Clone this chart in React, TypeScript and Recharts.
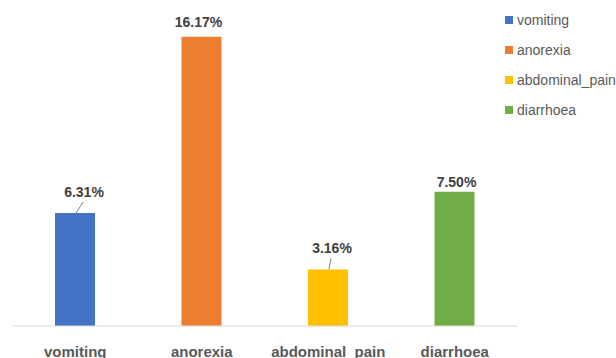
import { BarChart, Bar, XAxis, YAxis, Cell, LabelList } from 'recharts'

const categories = ['vomiting', 'anorexia', 'abdominal_pain', 'diarrhoea']
const rates = [6.31, 16.17, 3.16, 7.5]
const rateLabels = ['6.31%', '16.17%', '3.16%', '7.50%']
const colors = ['#4472C4', '#ED7D31', '#FFC000', '#70AD47']

// label placement tweaks (dx/dy from bar top centre), leader line when label is offset
const labelShift = [
  { dx: 9, dy: -21, leader: true },
  { dx: -3, dy: -15, leader: false },
  { dx: 4, dy: -21, leader: true },
  { dx: 2, dy: -10, leader: false },
]

const chartData = categories.map((name, i) => ({ name, value: rates[i], label: rateLabels[i] }))

const FONT = '"Liberation Sans", Arial, sans-serif'

function ValueLabel(props: any) {
  const { x, y, width, index } = props
  const s = labelShift[index]
  const cx = x + width / 2
  const lx = cx + s.dx
  const ly = y + s.dy
  return (
    <g>
      {s.leader && (
        <line x1={cx + 1} y1={y} x2={lx - 1} y2={ly + 10} stroke="#7f7f7f" strokeWidth={1} />
      )}
      <text
        x={lx}
        y={ly}
        textAnchor="middle"
        dominantBaseline="central"
        fontFamily={FONT}
        fontWeight="bold"
        fontSize={14}
        fill="#404040"
      >
        {rateLabels[index]}
      </text>
    </g>
  )
}

function CategoryTick(props: any) {
  const { x, y, payload } = props
  return (
    <text
      x={x}
      y={y + 17}
      textAnchor="middle"
      dominantBaseline="central"
      fontFamily={FONT}
      fontWeight="bold"
      fontSize={15}
      fill="#595959"
    >
      {payload.value}
    </text>
  )
}

function SideLegend() {
  return (
    <div
      style={{
        position: 'absolute',
        top: 5,
        left: 505,
        fontFamily: FONT,
        fontSize: 14,
        color: '#595959',
      }}
    >
      {categories.map((c, i) => (
        <div key={c} style={{ display: 'flex', alignItems: 'center', height: 30 }}>
          <span style={{ width: 8, height: 8, background: colors[i], marginRight: 4 }} />
          <span>{c}</span>
        </div>
      ))}
    </div>
  )
}

export default function App() {
  return (
    <div style={{ position: 'absolute', left: 0, top: 0, width: 616, height: 358, background: '#fff' }}>
      <BarChart
        width={616}
        height={358}
        data={chartData}
        margin={{ top: 4, right: 98, left: 12, bottom: 2 }}
      >
        <XAxis
          dataKey="name"
          axisLine={{ stroke: '#d9d9d9', strokeWidth: 1 }}
          tickLine={false}
          height={30}
          interval={0}
          tick={<CategoryTick />}
        />
        <YAxis hide domain={[0, 18]} />
        <Bar dataKey="value" barSize={40} isAnimationActive={false}>
          {chartData.map((d, i) => (
            <Cell key={d.name} fill={colors[i]} />
          ))}
          <LabelList dataKey="label" content={<ValueLabel />} />
        </Bar>
      </BarChart>
      <SideLegend />
    </div>
  )
}
